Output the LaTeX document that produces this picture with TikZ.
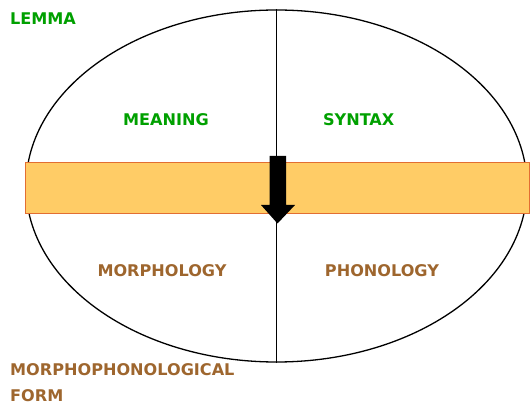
\documentclass[tikz,border=0pt]{standalone}
\usepackage{fontspec}
\setmainfont{DejaVu Sans}
\usetikzlibrary{shapes.geometric}
\definecolor{lemgreen}{RGB}{0,160,0}
\definecolor{formbrown}{RGB}{158,102,46}
\definecolor{bandfill}{RGB}{255,204,102}
\definecolor{bandline}{RGB}{226,110,50}
\tikzset{
  lbl/.style={inner sep=0pt, font=\bfseries\fontsize{16.1}{26}\selectfont},
  greenlbl/.style={lbl, text=lemgreen},
  brownlbl/.style={lbl, text=formbrown},
}
\begin{document}
\begin{tikzpicture}[x=1pt,y=-1pt]
\useasboundingbox (0,0) rectangle (531,406);
\node[ellipse, draw, line width=1.3pt, minimum width=501pt, minimum height=352pt, inner sep=0pt] (oval) at (276.5,186) {};
\draw[line width=1.3pt] (oval.north) -- (oval.south);
\node[draw=bandline, line width=0.8pt, fill=bandfill, minimum width=504pt, minimum height=51pt, inner sep=0pt, anchor=north west] (band) at (25,162) {};
\fill[black] (269.5,156) -- (286,156) -- (286,205) -- (295,205) -- (277.5,223.5) -- (261,205) -- (269.5,205) -- cycle;
\node[greenlbl, anchor=west] (lemma) at (10,18.5) {LEMMA};
\node[greenlbl] (meaning) at (166,119.7) {MEANING};
\node[greenlbl] (syntax) at (358.7,119.7) {SYNTAX};
\node[brownlbl] (morph) at (162,270.5) {MORPHOLOGY};
\node[brownlbl] (phon) at (382,270.5) {PHONOLOGY};
\node[brownlbl, anchor=north west, align=left] (mpform) at (10,363.5) {MORPHOPHONOLOGICAL\\FORM};
\end{tikzpicture}
\end{document}
